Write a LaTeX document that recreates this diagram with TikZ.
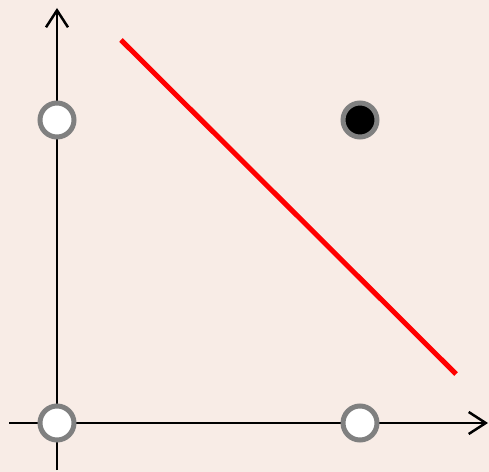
\documentclass[tikz,border=0pt]{standalone}
\usetikzlibrary{arrows.meta}
\definecolor{paper}{RGB}{248,236,230}
\definecolor{ringgray}{RGB}{128,128,128}
\tikzset{
    pt/.style={draw=ringgray, circle, line width=0.1cm, minimum size=0.68cm, inner sep=0pt},
    hollow/.style={pt, fill=white},
    solid pt/.style={pt, fill=black},
    axis/.style={line width=0.05cm, -{Straight Barb[length=3.4mm, width=4.4mm]}}
}
\begin{document}
\begin{tikzpicture}[x=0.02cm, y=-0.02cm]
    \fill[paper] (0,0) rectangle (489,472);
    \useasboundingbox (0,0) rectangle (489,472);

    % axis end points
    \coordinate (xs) at (9,423);
    \coordinate (xe) at (488,423);
    \coordinate (ys) at (57,470);
    \coordinate (ye) at (57,8);

    \draw[axis] (xs) -- (xe);
    \draw[axis] (ys) -- (ye);

    % line
    \coordinate (la) at (121,40);
    \coordinate (lb) at (456,374);
    \draw[red, line width=0.1cm] (la) -- (lb);

    % points
    \node[hollow] (p00) at (57,423) {};
    \node[hollow] (p01) at (57,120) {};
    \node[hollow] (p10) at (360,423) {};
    \node[solid pt] (p11) at (360,120) {};
\end{tikzpicture}
\end{document}
